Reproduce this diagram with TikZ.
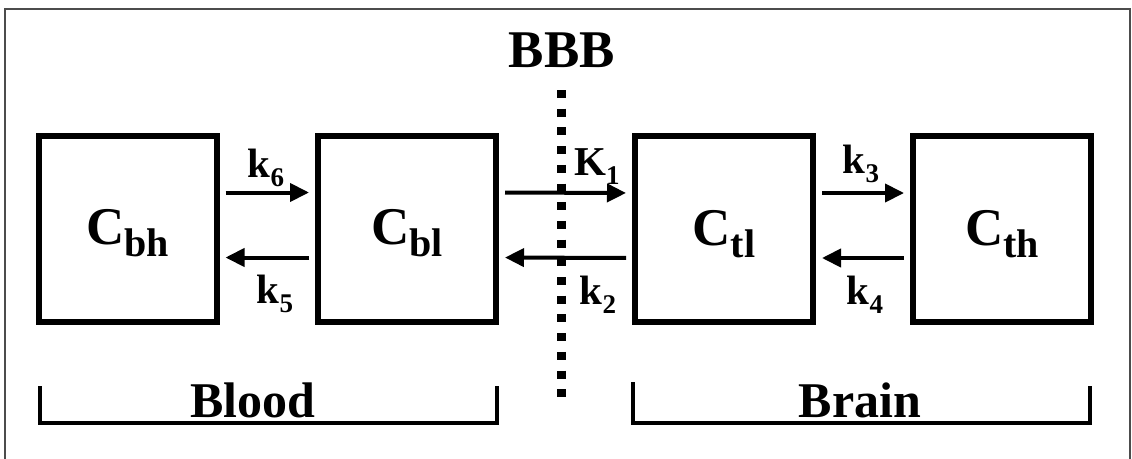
\documentclass[tikz,border=0pt]{standalone}
\usepackage{fontspec}
\setmainfont{Liberation Serif}
\usetikzlibrary{arrows.meta}
\newcommand{\cmplab}[2]{{\fontsize{53}{53}\selectfont\bfseries #1}\raisebox{-12pt}{\fontsize{40}{40}\selectfont\bfseries #2}}
\newcommand{\ratelab}[2]{{\fontsize{41}{41}\selectfont\bfseries #1}\raisebox{-9pt}{\fontsize{27}{27}\selectfont\bfseries #2}}
\begin{document}
\begin{tikzpicture}[x=1pt,y=-1pt,
  compbox/.style={draw,line width=6pt,minimum width=178pt,minimum height=186pt,inner sep=0pt,text height=35pt,text depth=3pt},
  arr/.style={line width=4pt,-{Triangle[length=19pt,width=18pt]},shorten <=6pt,shorten >=6pt},
  ratenode/.style={anchor=base,inner sep=0pt},
  bigtext/.style={anchor=base,inner sep=0pt,font=\fontsize{50}{50}\selectfont\bfseries},
  bracket/.style={line width=4.5pt,line join=miter},
  frame/.style={line width=1.5pt,draw=black!70}]
\useasboundingbox (0,0) rectangle (1132,458);
% outer frame
\draw[frame] (5,460) -- (5,9) -- (1130,9) -- (1130,460);
% compartments
\node[compbox] (bh) at (127.5,228.5) {\cmplab{C}{bh}};
\node[compbox] (bl) at (407,228.5) {\cmplab{C}{bl}};
\node[compbox] (tl) at (724,229) {\cmplab{C}{tl}};
\node[compbox] (th) at (1002,229) {\cmplab{C}{th}};
% arrows
\draw[arr] ([yshift=36pt]bh.east) -- ([yshift=36pt]bl.west);
\draw[arr] ([yshift=-29pt]bl.west) -- ([yshift=-29pt]bh.east);
\draw[arr] ([yshift=36pt]bl.east) -- ([yshift=36pt]tl.west);
\draw[arr] ([yshift=-29pt]tl.west) -- ([yshift=-29pt]bl.east);
\draw[arr] ([yshift=36pt]tl.east) -- ([yshift=36pt]th.west);
\draw[arr] ([yshift=-29pt]th.west) -- ([yshift=-29pt]tl.east);
% rate labels
\node[ratenode] (k6) at (266,177) {\ratelab{k}{6}};
\node[ratenode] (k5) at (275,303) {\ratelab{k}{5}};
\node[ratenode] (K1) at (597,175) {\ratelab{K}{1}};
\node[ratenode] (k2) at (598,304) {\ratelab{k}{2}};
\node[ratenode] (k3) at (861,173) {\ratelab{k}{3}};
\node[ratenode] (k4) at (865,304) {\ratelab{k}{4}};
% BBB
\node[bigtext,font=\fontsize{53}{53}\selectfont\bfseries] (bbb) at (562,67) {BBB};
\coordinate (bbbtop) at (561,90);
\coordinate (bbbbot) at (561,397);
\draw[line width=9pt,dash pattern=on 8pt off 10.7pt] (bbbtop) -- (bbbbot);
% brackets
\draw[bracket] (40,386) -- (40,423) -- (497,423) -- (497,386);
\draw[bracket] (633,382) -- (633,423) -- (1090,423) -- (1090,386);
\node[bigtext] (blood) at (253,417) {Blood};
\node[bigtext] (brain) at (860,417) {Brain};
\end{tikzpicture}
\end{document}
